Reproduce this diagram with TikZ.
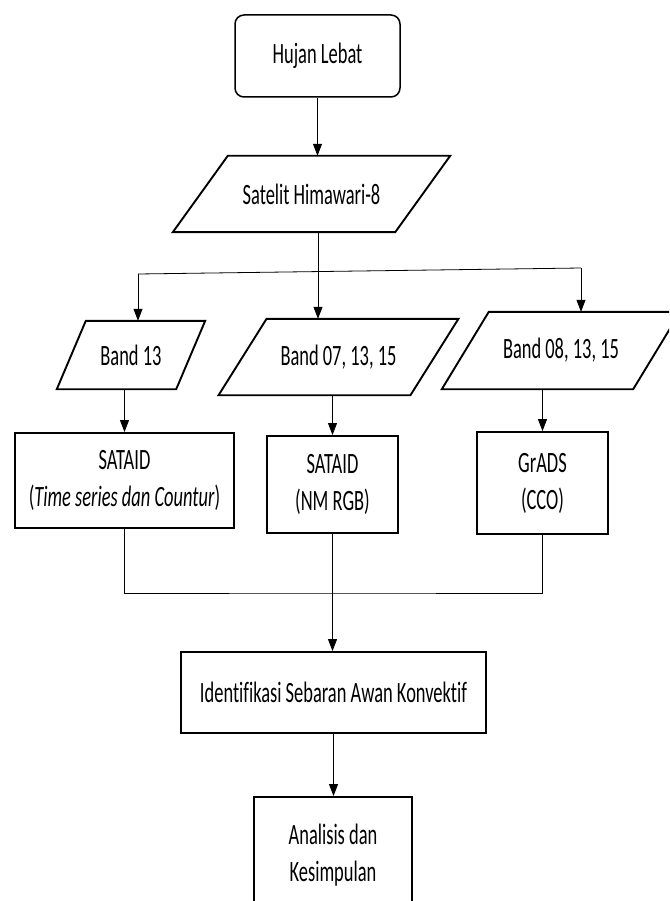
\documentclass[tikz,border=0pt]{standalone}
\usepackage{fontspec}
\setmainfont[FakeStretch=0.625, Ligatures=NoCommon]{Carlito}
\usetikzlibrary{arrows.meta}

\newcommand{\slantframe}[2]{%
  \draw[frame] ([xshift=#2]#1.north west) -- ([xshift=#2]#1.north east)
    -- ([xshift=-#2]#1.south east) -- ([xshift=-#2]#1.south west) -- cycle;}

\begin{document}
\begin{tikzpicture}[x=1pt, y=-1pt,
  every node/.style={font=\fontsize{29.5}{37}\selectfont, inner sep=0pt, align=center},
  frame/.style={draw, line width=1.9pt},
  startbox/.style={draw, line width=1.5pt, rounded corners=9pt},
  line/.style={line width=0.8pt},
  arrow/.style={line, -{Triangle[length=12pt, width=9pt]}}]
\useasboundingbox (0,0) rectangle (669,901);
\clip (0,0) rectangle (669,901);

%start
\node[startbox, minimum width=165pt, minimum height=82pt] (hujan) at (317.5,56) {Hujan Lebat};

%the data
\node[minimum width=222pt, minimum height=76pt] (satelit) at (311.5,194) {Satelit Himawari-8};
\slantframe{satelit}{27.5pt}
\node[minimum width=119pt, minimum height=68pt] (band13) at (131,355) {Band 13};
\slantframe{band13}{14.5pt}
\node[minimum width=191.5pt, minimum height=76pt] (band07) at (338.5,357) {Band 07, 13, 15};
\slantframe{band07}{24pt}
\node[minimum width=191pt, minimum height=77pt] (band08) at (561,350.5) {Band 08, 13, 15};
\slantframe{band08}{23.5pt}

%the processes
\node[frame, minimum width=219pt, minimum height=95pt] (sataid1) at (124.5,480.5) {SATAID\\(\textit{Time series dan Countur})};
\node[frame, minimum width=131pt, minimum height=97pt] (sataid2) at (332.5,484.5) {SATAID\\(NM RGB)};
\node[frame, minimum width=131pt, minimum height=102pt] (grads) at (542.5,483) {GrADS\\(CCO)};
\node[frame, minimum width=305pt, minimum height=81pt] (ident) at (333.5,692.5) {Identifikasi Sebaran Awan Konvektif};
\node[frame, minimum width=158pt, minimum height=116pt] (analisis) at (333,855) {Analisis dan\\Kesimpulan};

%the branch points
\coordinate (lbar) at (138,274);
\coordinate (rbar) at (581,268);
\coordinate (split) at (318,271.6);
\coordinate (join) at (332,593);

%the connectors
\draw[arrow] (hujan.south) -- (hujan.south |- satelit.north);
\draw[line] (satelit.south -| split) -- (split);
\draw[line] (lbar) -- (rbar);
\draw[arrow] (split) -- (split |- band07.north);
\draw[arrow] (lbar) -- (lbar |- band13.north);
\draw[arrow] (rbar) -- (rbar |- band08.north);

\draw[arrow] (band13.south -| sataid1.north) -- (sataid1.north);
\draw[arrow] (band07.south -| sataid2.north) -- (sataid2.north);
\draw[arrow] (band08.south -| grads.north) -- (grads.north);

\draw[line] (sataid1.south) |- (join) -| (grads.south);
\draw[arrow] (sataid2.south) -- (sataid2.south |- ident.north);
\draw[arrow] (ident.south) -- (ident.south |- analisis.north);
\end{tikzpicture}
\end{document}
